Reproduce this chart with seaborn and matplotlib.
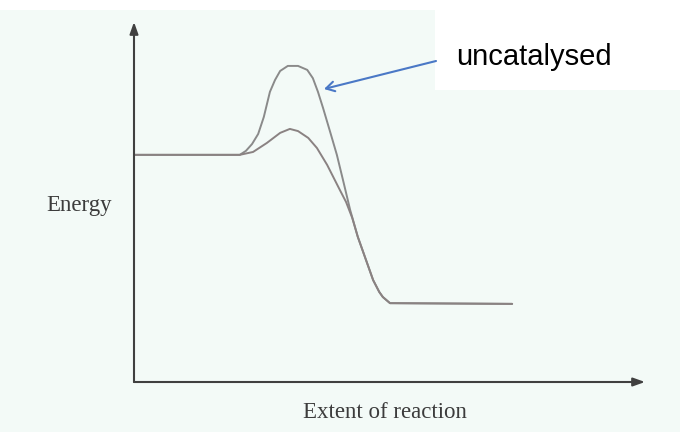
import numpy as np
import matplotlib
matplotlib.use("Agg")
import matplotlib.pyplot as plt
import seaborn as sns
from matplotlib.patches import Rectangle, FancyArrowPatch

sns.set_style("white")

# energy profile (extent 0-100, energy 0-100)
uncat_x = [0.2, 20.7, 21.9, 23.1, 24.3, 25.4, 26.6, 27.6, 28.6, 30.1, 32.1, 33.9,
           35.0, 36.0, 37.0, 38.4, 39.7, 40.9, 42.3, 43.8, 45.6, 46.8, 48.0, 48.7,
           50.1, 74.0]
uncat_y = [63.1, 63.1, 64.2, 66.1, 68.9, 73.6, 80.6, 83.9, 86.4, 87.8, 87.8, 86.7,
           84.4, 80.6, 76.1, 69.4, 63.1, 56.1, 47.8, 40.3, 33.1, 28.3, 25.0, 23.6,
           21.9, 21.7]

cat_x = [0.2, 20.7, 23.3, 26.0, 28.6, 30.5, 32.1, 34.1, 35.8, 37.8, 40.3, 41.5,
         42.7, 43.8, 45.6, 46.8, 48.0, 48.7, 50.1, 74.0]
cat_y = [63.1, 63.1, 63.9, 66.4, 69.2, 70.3, 69.7, 67.8, 65.0, 60.3, 53.3, 50.0,
         45.6, 40.3, 33.1, 28.3, 25.0, 23.6, 21.9, 21.7]

W, H = 680, 432
bg = "#f3faf7"
fig = plt.figure(figsize=(6.8, 4.32), dpi=100, facecolor=bg)

# white strip at top and white box behind the label
fig.patches.append(Rectangle((0, 1 - 10 / H), 1, 10 / H, transform=fig.transFigure,
                             facecolor="white", edgecolor="none", zorder=0))
fig.patches.append(Rectangle((435 / W, 1 - 90 / H), 1 - 435 / W, 90 / H,
                             transform=fig.transFigure, facecolor="white",
                             edgecolor="none", zorder=0))

ax = fig.add_axes([134 / W, (H - 382) / H, (645 - 134) / W, (382 - 22) / H])
ax.set_facecolor("none")
ax.set_xlim(0, 100)
ax.set_ylim(0, 100)

sns.lineplot(x=uncat_x, y=uncat_y, ax=ax, color="#8a8a8a", lw=1.4, estimator=None,
             solid_joinstyle="round")
sns.lineplot(x=cat_x, y=cat_y, ax=ax, color="#8a8282", lw=1.4, estimator=None,
             solid_joinstyle="round")

for s in ax.spines.values():
    s.set_visible(False)
ax.set_xticks([])
ax.set_yticks([])

# axis arrows
ax.annotate("", xy=(0, 1.0), xytext=(0, 0), xycoords="axes fraction",
            arrowprops=dict(arrowstyle="-|>,head_length=0.7,head_width=0.25",
                            color="#404040", lw=1.5, shrinkA=0, shrinkB=0))
ax.annotate("", xy=(1.0, 0), xytext=(0, 0), xycoords="axes fraction",
            arrowprops=dict(arrowstyle="-|>,head_length=0.7,head_width=0.25",
                            color="#404040", lw=1.5, shrinkA=0, shrinkB=0))

serif = ["Liberation Serif", "DejaVu Serif"]
fig.text(79 / W, 1 - 206 / H, "Energy", ha="center", va="center",
         fontsize=16.5, family=serif, color="#3c3c3c")
fig.text(385 / W, 1 - 413 / H, "Extent of reaction", ha="center", va="center",
         fontsize=16.5, family=serif, color="#3c3c3c")

fig.text(456 / W, 1 - 65 / H, "uncatalysed", ha="left", va="baseline",
         fontsize=21, family=["Liberation Sans", "DejaVu Sans"], color="black")

# blue pointer to the uncatalysed peak
fig.add_artist(FancyArrowPatch(
    (436 / W, 1 - 61 / H), (324 / W, 1 - 89 / H), transform=fig.transFigure,
    arrowstyle="->,head_length=6,head_width=3.5", color="#4a78c6", lw=1.5,
    shrinkA=0, shrinkB=0))

fig.savefig("out.png", dpi=100, facecolor=bg)
